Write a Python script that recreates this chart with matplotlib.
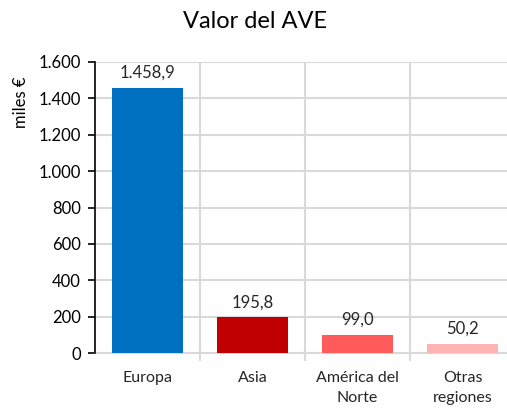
import matplotlib.pyplot as plt
from matplotlib.ticker import FuncFormatter, FixedLocator

# Datos
regiones = ['Europa', 'Asia', 'América del\nNorte', 'Otras\nregiones']
valores = [1458.9, 195.8, 99.0, 50.2]
etiquetas = ['1.458,9', '195,8', '99,0', '50,2']
colores = ['#0070C0', '#C00000', '#FF5B5B', '#FFB3B3']
yticks = [0, 200, 400, 600, 800, 1000, 1200, 1400, 1600]

plt.rcParams['font.family'] = ['Lato', 'DejaVu Sans']
grid_color = '#D9D9D9'

fig = plt.figure(figsize=(5.07, 4.09), dpi=100)
W, H = 507, 409
ax = fig.add_axes([95 / W, (H - 353) / H, 420 / W, (353 - 62) / H])

x = list(range(len(regiones)))
ax.bar(x, valores, width=0.67, color=colores, zorder=3)

for xi, v, t in zip(x, valores, etiquetas):
    ax.annotate(t, (xi, v), xytext=(0, 5), textcoords='offset points',
                ha='center', va='bottom', fontsize=12, color='#262626')

ax.set_xlim(-0.5, 3.5)
ax.set_ylim(0, 1600)
ax.set_yticks(yticks)
ax.yaxis.set_major_formatter(FuncFormatter(lambda v, p: f'{int(v):,}'.replace(',', '.')))
ax.set_xticks(x)
ax.set_xticklabels(regiones, fontsize=11.5, color='#262626', linespacing=1.55)
ax.tick_params(axis='x', which='major', length=0, pad=13)
ax.xaxis.set_minor_locator(FixedLocator([0.5, 1.5, 2.5, 3.5]))
ax.tick_params(axis='x', which='minor', length=6, width=1.5, color=grid_color)
ax.tick_params(axis='y', labelsize=12, colors='black', length=5, width=1.2, pad=5)

ax.grid(axis='y', color=grid_color, linewidth=1.5, zorder=0)
for b in [0.5, 1.5, 2.5, 3.5]:
    ax.axvline(b, color=grid_color, linewidth=1.5, zorder=0)

for s in ['top', 'right']:
    ax.spines[s].set_visible(False)
ax.spines['bottom'].set_color(grid_color)
ax.spines['bottom'].set_linewidth(1.5)
ax.spines['left'].set_color('black')
ax.spines['left'].set_linewidth(1.2)
ax.spines['left'].set_zorder(4)

ax.set_ylabel('miles €', fontsize=12)
ax.yaxis.set_label_coords(-0.158, 0.86)
fig.text(255 / W, 1 - 22 / H, 'Valor del AVE', ha='center', va='center', fontsize=17)

fig.savefig('out.png', dpi=100)
